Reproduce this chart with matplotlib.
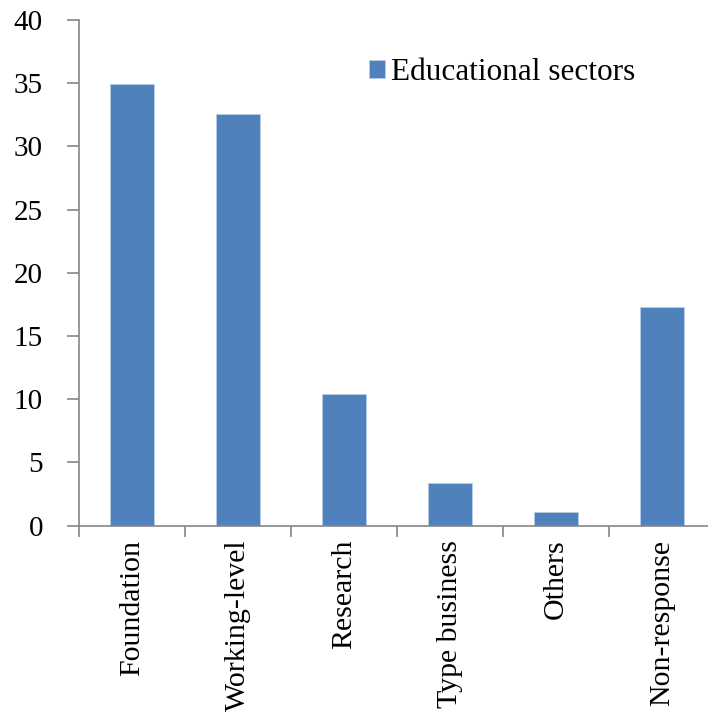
import matplotlib.pyplot as plt
import numpy as np

# Data
categories = ['Foundation', 'Working-level', 'Research', 'Type business', 'Others', 'Non-response']
values = [34.9, 32.6, 10.4, 3.4, 1.1, 17.3]
series_name = 'Educational sectors'
y_ticks = [0, 5, 10, 15, 20, 25, 30, 35, 40]

plt.rcParams['font.family'] = ['Liberation Serif', 'DejaVu Serif']

W, H = 708, 715
fig = plt.figure(figsize=(W / 100, H / 100), dpi=100)

# axes placed in pixel terms (right edge runs past the figure, as in the reference)
left, right, bottom, top = 79, 715, 525.7, 20
ax = fig.add_axes([left / W, (H - bottom) / H, (right - left) / W, (bottom - top) / H])

x = np.arange(len(categories))
ax.bar(x, values, width=0.41, color='#4F81BD', edgecolor='#B9CDE5', linewidth=0.6,
       label=series_name, zorder=2)

ax.set_xlim(-0.5, len(categories) - 0.5)
ax.set_ylim(0, 40)
ax.set_yticks(y_ticks)
ax.set_yticklabels([str(t) for t in y_ticks], fontsize=21)

# x ticks sit between categories, labels at centres
ax.set_xticks(np.arange(-0.5, len(categories), 1.0))
ax.set_xticklabels([])
ax.set_xticks(x, minor=True)
ax.set_xticklabels(categories, minor=True, rotation=90, fontsize=21.5, va='top', ha='center')
ax.tick_params(axis='x', which='minor', length=0, pad=10)
ax.tick_params(axis='x', which='major', length=8, color='#868686', width=1.2)
ax.tick_params(axis='y', length=9, color='#868686', width=1.2, pad=17)

for side in ['top', 'right']:
    ax.spines[side].set_visible(False)
for side in ['left', 'bottom']:
    ax.spines[side].set_color('#868686')
    ax.spines[side].set_linewidth(1.2)

ax.legend(loc='upper left', bbox_to_anchor=(369 / W, (H - 58) / H),
          bbox_transform=fig.transFigure, frameon=False, fontsize=22.5,
          handlelength=0.5, handleheight=0.5, handletextpad=0.2,
          borderaxespad=0, borderpad=0)

fig.savefig('out.png', dpi=100)
